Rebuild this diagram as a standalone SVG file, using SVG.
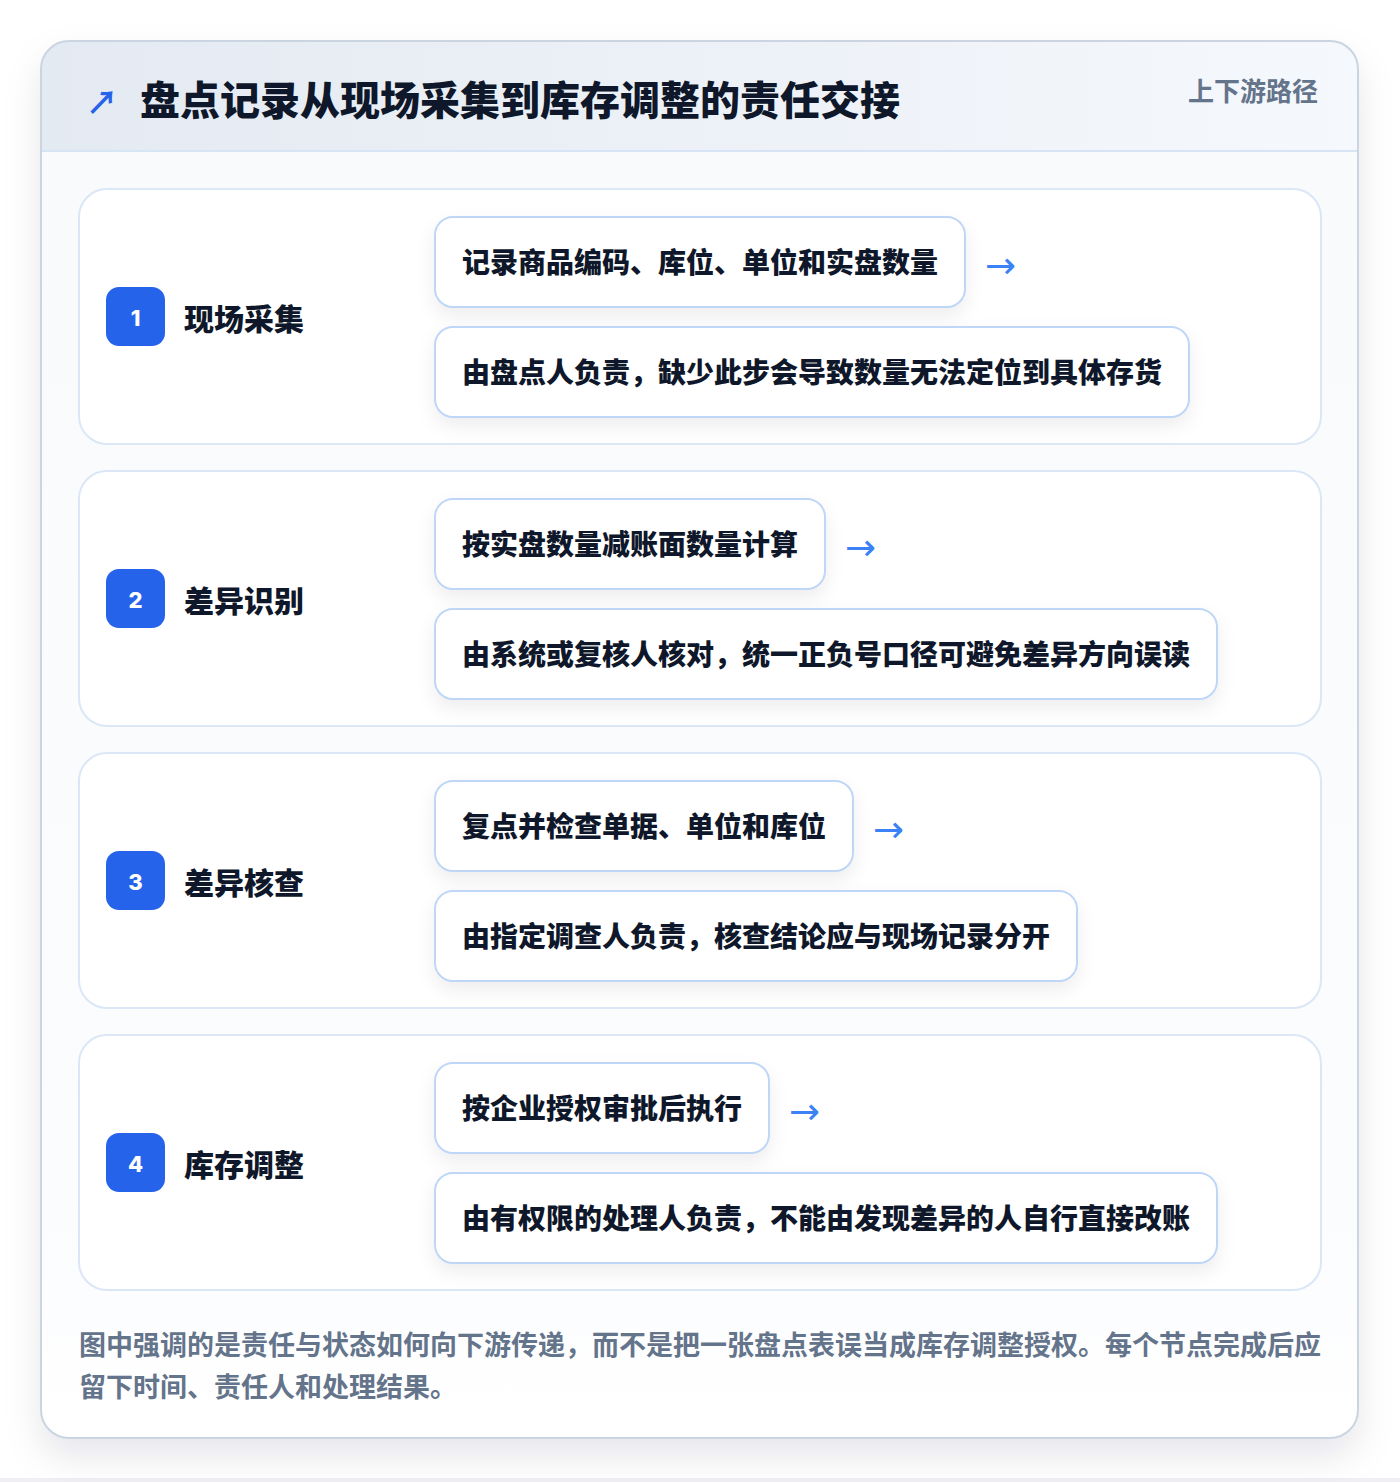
<svg xmlns="http://www.w3.org/2000/svg" width="1400" height="1482" viewBox="0 0 1400 1482">
<defs>
<linearGradient id="hdr" x1="0" y1="0" x2="1" y2="0">
<stop offset="0" stop-color="#e4eaf2"/>
<stop offset="1" stop-color="#f5f8fc"/>
</linearGradient>
<linearGradient id="body" x1="0" y1="0" x2="0" y2="1">
<stop offset="0" stop-color="#f8fafc"/>
<stop offset="0.85" stop-color="#fbfcfe"/>
<stop offset="1" stop-color="#ffffff"/>
</linearGradient>
<filter id="cardShadow" x="-10%" y="-10%" width="120%" height="120%">
<feDropShadow dx="0" dy="18" stdDeviation="18" flood-color="#0f172a" flood-opacity="0.10"/>
</filter>
<filter id="boxShadow" x="-10%" y="-20%" width="120%" height="150%">
<feDropShadow dx="0" dy="8" stdDeviation="9" flood-color="#0f172a" flood-opacity="0.07"/>
</filter>
<clipPath id="cardClip"><rect x="41" y="41" width="1317" height="1397" rx="28"/></clipPath>
</defs>
<style>
.cjk{font-family:"Noto Sans CJK SC","Noto Sans",sans-serif;}
.title{font-size:40px;font-weight:900;fill:#0f172a;}
.tag{font-size:26px;font-weight:700;fill:#64748b;}
.section{fill:#ffffff;stroke:#dbe7f7;stroke-width:2;}
.badge{fill:#2563eb;}
.num{font-family:"Inter","Noto Sans",sans-serif;font-size:22px;font-weight:800;fill:#ffffff;}
.label{font-size:30px;font-weight:900;fill:#0f172a;}
.box{fill:#ffffff;stroke:#bfd6f6;stroke-width:2;}
.boxtxt{font-size:28px;font-weight:900;fill:#0f172a;}
.arrow{font-family:"DejaVu Sans","Noto Sans",sans-serif;font-size:37px;fill:#3b82f6;}
.foot{font-size:27px;font-weight:700;fill:#64748b;}
</style>
<rect x="0" y="0" width="1400" height="1482" fill="#ffffff"/>
<rect x="0" y="1478" width="1400" height="4" fill="#eef0f4"/>
<g id="card">
<rect x="41" y="41" width="1317" height="1397" rx="28" fill="#ffffff" filter="url(#cardShadow)"/>
<g clip-path="url(#cardClip)">
<rect x="41" y="41" width="1317" height="1397" fill="url(#body)"/>
<rect x="41" y="41" width="1317" height="110" fill="url(#hdr)"/>
<line x1="41" y1="151" x2="1358" y2="151" stroke="#d6e4f5" stroke-width="2"/>
</g>
<rect x="41" y="41" width="1317" height="1397" rx="28" fill="none" stroke="#cbd5e1" stroke-width="2"/>
</g>
<g id="header">
<text class="cjk" x="86" y="100" dominant-baseline="central" font-size="32" font-weight="700" fill="#2563eb">↗</text>
<text class="cjk title" x="140" y="98" dominant-baseline="central">盘点记录从现场采集到库存调整的责任交接</text>
<text class="cjk tag" x="1318" y="89" text-anchor="end" dominant-baseline="central">上下游路径</text>
</g>
<g id="step1">
<rect class="section" x="79" y="189" width="1242" height="255" rx="28"/>
<rect class="badge" x="106" y="287" width="59" height="59" rx="13"/>
<text class="num" x="135.5" y="318" text-anchor="middle" dominant-baseline="central">1</text>
<text class="cjk label" x="184" y="317" dominant-baseline="central">现场采集</text>
<rect class="box" x="435" y="217" width="530" height="90" rx="18" filter="url(#boxShadow)"/>
<text class="cjk boxtxt" x="462" y="261" dominant-baseline="central">记录商品编码、库位、单位和实盘数量</text>
<rect class="box" x="435" y="327" width="754" height="90" rx="18" filter="url(#boxShadow)"/>
<text class="cjk boxtxt" x="462" y="371" dominant-baseline="central">由盘点人负责，缺少此步会导致数量无法定位到具体存货</text>
</g>
<g id="step2">
<rect class="section" x="79" y="471" width="1242" height="255" rx="28"/>
<rect class="badge" x="106" y="569" width="59" height="59" rx="13"/>
<text class="num" x="135.5" y="600" text-anchor="middle" dominant-baseline="central">2</text>
<text class="cjk label" x="184" y="599" dominant-baseline="central">差异识别</text>
<rect class="box" x="435" y="499" width="390" height="90" rx="18" filter="url(#boxShadow)"/>
<text class="cjk boxtxt" x="462" y="543" dominant-baseline="central">按实盘数量减账面数量计算</text>
<rect class="box" x="435" y="609" width="782" height="90" rx="18" filter="url(#boxShadow)"/>
<text class="cjk boxtxt" x="462" y="653" dominant-baseline="central">由系统或复核人核对，统一正负号口径可避免差异方向误读</text>
</g>
<g id="step3">
<rect class="section" x="79" y="753" width="1242" height="255" rx="28"/>
<rect class="badge" x="106" y="851" width="59" height="59" rx="13"/>
<text class="num" x="135.5" y="882" text-anchor="middle" dominant-baseline="central">3</text>
<text class="cjk label" x="184" y="881" dominant-baseline="central">差异核查</text>
<rect class="box" x="435" y="781" width="418" height="90" rx="18" filter="url(#boxShadow)"/>
<text class="cjk boxtxt" x="462" y="825" dominant-baseline="central">复点并检查单据、单位和库位</text>
<rect class="box" x="435" y="891" width="642" height="90" rx="18" filter="url(#boxShadow)"/>
<text class="cjk boxtxt" x="462" y="935" dominant-baseline="central">由指定调查人负责，核查结论应与现场记录分开</text>
</g>
<g id="step4">
<rect class="section" x="79" y="1035" width="1242" height="255" rx="28"/>
<rect class="badge" x="106" y="1133" width="59" height="59" rx="13"/>
<text class="num" x="135.5" y="1164" text-anchor="middle" dominant-baseline="central">4</text>
<text class="cjk label" x="184" y="1163" dominant-baseline="central">库存调整</text>
<rect class="box" x="435" y="1063" width="334" height="90" rx="18" filter="url(#boxShadow)"/>
<text class="cjk boxtxt" x="462" y="1107" dominant-baseline="central">按企业授权审批后执行</text>
<rect class="box" x="435" y="1173" width="782" height="90" rx="18" filter="url(#boxShadow)"/>
<text class="cjk boxtxt" x="462" y="1217" dominant-baseline="central">由有权限的处理人负责，不能由发现差异的人自行直接改账</text>
</g>
<g id="connectors">
<text class="arrow" x="985" y="265" dominant-baseline="central">→</text>
<text class="arrow" x="845" y="547" dominant-baseline="central">→</text>
<text class="arrow" x="873" y="829" dominant-baseline="central">→</text>
<text class="arrow" x="789" y="1111" dominant-baseline="central">→</text>
</g>
<g id="footer">
<text class="cjk foot" x="79" y="1343" dominant-baseline="central">图中强调的是责任与状态如何向下游传递，而不是把一张盘点表误当成库存调整授权。每个节点完成后应</text>
<text class="cjk foot" x="79" y="1385" dominant-baseline="central">留下时间、责任人和处理结果。</text>
</g>
</svg>
